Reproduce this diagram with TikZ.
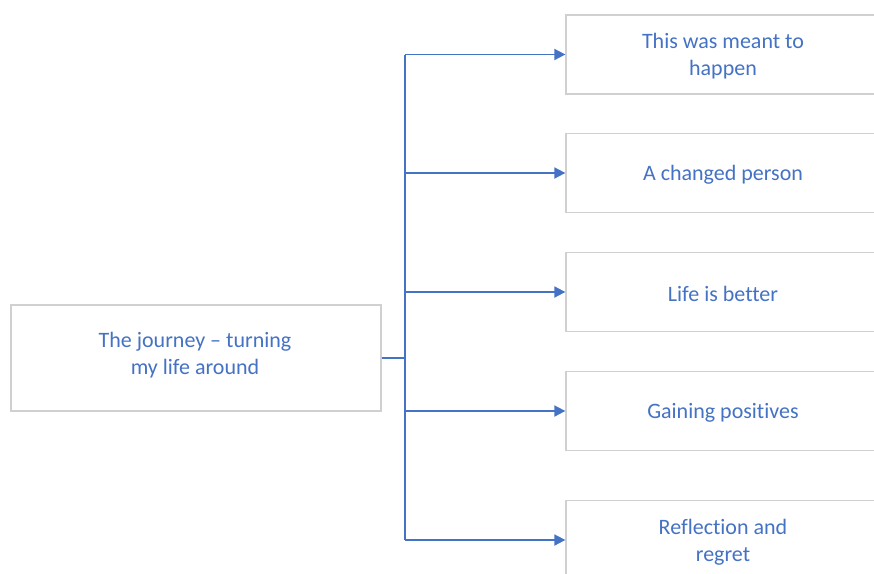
\documentclass[tikz,border=0pt]{standalone}
\usepackage{fontspec}
\setmainfont{Carlito}[Ligatures={NoCommon}]
\usetikzlibrary{arrows.meta}
\definecolor{accent}{HTML}{4472C4}
\definecolor{frame}{HTML}{D0D0D0}
\begin{document}
\begin{tikzpicture}[x=1pt,y=-1pt,
  box/.style={draw=frame,line width=1.3pt,fill=white},
  label/.style={text=accent,align=center,
    font=\fontsize{22}{27}\selectfont,inner sep=0pt},
  link/.style={draw=accent,line width=1.8pt,-{Triangle[length=11pt,width=11pt]}},
  trunk/.style={draw=accent,line width=1.8pt}]
\useasboundingbox (0,0) rectangle (874,573);
% root box and its label
\node[box,minimum width=370pt,minimum height=106pt] (root) at (196,358) {};
\node[label] (rootlabel) at (195,355) {The journey -- turning\\my life around};
% branch boxes (they run past the right and bottom edges)
\begin{scope}[every node/.style={box,minimum width=330pt,minimum height=79pt}]
\node (b1) at (731,54.5) {};
\node (b2) at (731,173) {};
\node (b3) at (731,292) {};
\node (b4) at (731,411) {};
\node (b5) at (731,540) {};
\end{scope}
% labels centred in the visible part of each box
\begin{scope}[every node/.style={label}]
\node (t1) at (723,56) {This was meant to\\happen};
\node (t2) at (723,175) {A changed person};
\node (t3) at (723,294) {Life is better};
\node (t4) at (723,413) {Gaining positives};
\node (t5) at (723,542) {Reflection and\\regret};
\end{scope}
% junction and connectors
\coordinate (hub) at (405,358);
\coordinate (top) at (405,54.5);
\coordinate (bot) at (405,540);
\draw[trunk] (root.east) -- (hub);
\draw[trunk] (top) -- (bot);
\draw[link] (top) -- (b1.west);
\draw[link] (405,173) -- (b2.west);
\draw[link] (405,292) -- (b3.west);
\draw[link] (405,411) -- (b4.west);
\draw[link] (bot) -- (b5.west);
\end{tikzpicture}
\end{document}
